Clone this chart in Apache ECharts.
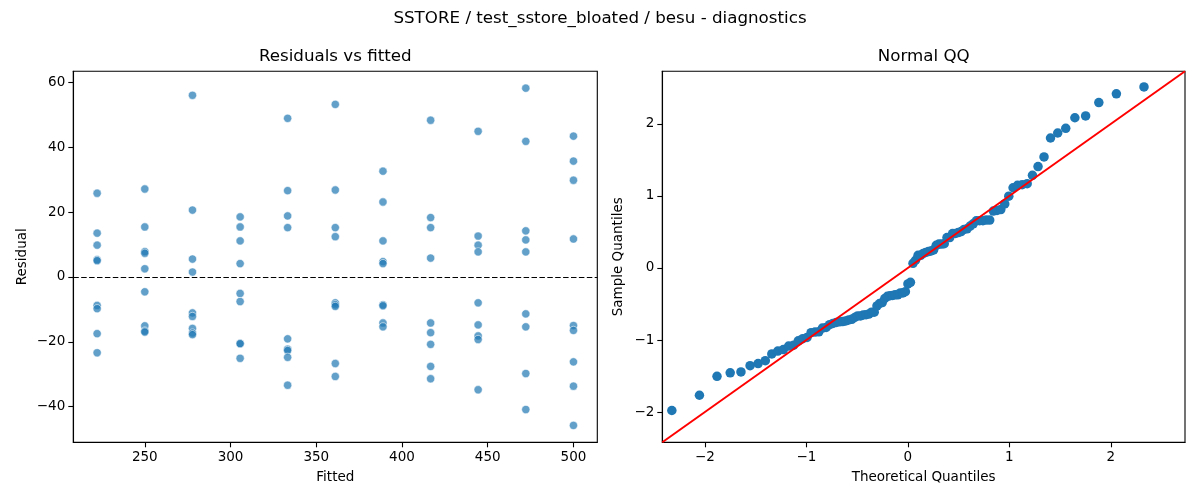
<!DOCTYPE html>
<html>
<head>
<meta charset="utf-8">
<script src="https://cdn.jsdelivr.net/npm/echarts@6/dist/echarts.min.js"></script>
<style>
  html, body { margin: 0; padding: 0; background: #fff; }
  #chart { width: 1200px; height: 500px; }
</style>
</head>
<body>
<div id="chart"></div>
<script>
// ---- Data ----
const fittedLevels = [222.2, 250.0, 277.8, 305.6, 333.3, 361.1, 388.9, 416.7, 444.4, 472.2, 500.0];
const resAt222 = [25.8, 13.5, 9.8, 5.3, 5.0, -8.8, -9.8, -17.5, -23.4];
const resAt250 = [27.1, 15.4, 7.8, 7.3, 2.5, -4.6, -15.1, -16.7, -17.0];
const resAt278 = [56.0, 20.6, 5.5, 1.5, -11.1, -12.2, -15.9, -17.3, -17.8];
const resAt306 = [18.5, 15.4, 11.1, 4.1, -5.1, -7.6, -20.5, -20.6, -25.1];
const resAt333 = [48.9, 26.6, 18.8, 15.2, -19.1, -22.3, -22.7, -24.8, -33.4];
const resAt361 = [53.2, 26.8, 15.2, 12.4, -8.0, -8.6, -9.1, -26.7, -30.7];
const resAt389 = [32.6, 23.1, 11.1, 4.7, 4.1, -8.6, -8.9, -14.2, -15.4];
const resAt417 = [48.3, 18.3, 15.2, 5.8, -14.2, -17.2, -20.8, -27.6, -31.4];
const resAt444 = [44.9, 12.6, 9.8, 7.7, -8.0, -14.8, -18.2, -19.3, -34.8];
const resAt472 = [58.2, 41.8, 14.2, 11.4, 7.7, -11.4, -15.4, -29.8, -40.9];
const resAt500 = [43.4, 35.7, 29.8, 11.7, -15.0, -16.5, -26.2, -33.7, -45.8];
const residualGroups = [resAt222, resAt250, resAt278, resAt306, resAt333, resAt361,
                        resAt389, resAt417, resAt444, resAt472, resAt500];

// Theoretical normal quantiles (plotting positions i/100, i = 1..99)
const qqTheoretical = [
  -2.326, -2.054, -1.881, -1.751, -1.645, -1.555, -1.476, -1.405, -1.341, -1.282,
  -1.227, -1.175, -1.126, -1.080, -1.036, -0.994, -0.954, -0.915, -0.878, -0.842,
  -0.806, -0.772, -0.739, -0.706, -0.674, -0.643, -0.613, -0.583, -0.553, -0.524,
  -0.496, -0.468, -0.440, -0.412, -0.385, -0.358, -0.332, -0.305, -0.279, -0.253,
  -0.228, -0.202, -0.176, -0.151, -0.126, -0.100, -0.075, -0.050, -0.025, 0.000,
   0.025,  0.050,  0.075,  0.100,  0.126,  0.151,  0.176,  0.202,  0.228,  0.253,
   0.279,  0.305,  0.332,  0.358,  0.385,  0.412,  0.440,  0.468,  0.496,  0.524,
   0.553,  0.583,  0.613,  0.643,  0.674,  0.706,  0.739,  0.772,  0.806,  0.842,
   0.878,  0.915,  0.954,  0.994,  1.036,  1.080,  1.126,  1.175,  1.227,  1.282,
   1.341,  1.405,  1.476,  1.555,  1.645,  1.751,  1.881,  2.054,  2.326
];

// Tick labels
const residTicksX = [250, 300, 350, 400, 450, 500];
const residTicksY = [-40, -20, 0, 20, 40, 60];
const qqTicks = [-2, -1, 0, 1, 2];
const refLineEnds = [-2.42, 2.73];

// ---- Build series data ----
const residPoints = [];
fittedLevels.forEach((f, i) => residualGroups[i].forEach(r => residPoints.push([f, r])));

const allRes = residualGroups.flat().slice().sort((a, b) => a - b);
const mean = allRes.reduce((s, v) => s + v, 0) / allRes.length;
const sd = Math.sqrt(allRes.reduce((s, v) => s + (v - mean) * (v - mean), 0) / allRes.length);
const qqPoints = allRes.map((r, i) => [qqTheoretical[i], (r - mean) / sd]);

const FONT = 'DejaVu Sans';
const minus = v => String(v).replace('-', '\u2212');

function axisCommon(ticks) {
  return {
    splitLine: { show: false },
    axisLine: { show: true, onZero: false, lineStyle: { color: '#000', width: 1.1 } },
    axisTick: { show: true, length: 5, customValues: ticks, lineStyle: { color: '#000', width: 1.1 } },
    axisLabel: { customValues: ticks, formatter: minus, color: '#000', fontFamily: FONT, fontSize: 13.5 },
    nameTextStyle: { color: '#000', fontFamily: FONT, fontSize: 13.5 },
    nameLocation: 'middle'
  };
}

const titleStyle = { fontFamily: FONT, fontSize: 16.7, fontWeight: 'normal', color: '#000' };

const chart = echarts.init(document.getElementById('chart'), null, { renderer: 'canvas' });
chart.setOption({
  animation: false,
  backgroundColor: '#fff',
  title: [
    { text: 'SSTORE / test_sstore_bloated / besu - diagnostics', left: 600, top: 10, textAlign: 'center', padding: 0, textStyle: titleStyle },
    { text: 'Residuals vs fitted', left: 335.3, top: 48.5, textAlign: 'center', padding: 0, textStyle: titleStyle },
    { text: 'Normal QQ', left: 923.7, top: 48.5, textAlign: 'center', padding: 0, textStyle: titleStyle }
  ],
  grid: [
    { left: 73.3, top: 71.3, width: 524, height: 371, show: true, borderColor: '#000', borderWidth: 1.1, backgroundColor: 'transparent' },
    { left: 662.3, top: 71.3, width: 522.7, height: 371, show: true, borderColor: '#000', borderWidth: 1.1, backgroundColor: 'transparent' }
  ],
  xAxis: [
    Object.assign(axisCommon(residTicksX), { type: 'value', gridIndex: 0, min: 208.3, max: 513.9, name: 'Fitted', nameGap: 28 }),
    Object.assign(axisCommon(qqTicks), { type: 'value', gridIndex: 1, min: refLineEnds[0], max: refLineEnds[1], name: 'Theoretical Quantiles', nameGap: 28 })
  ],
  yAxis: [
    Object.assign(axisCommon(residTicksY), { type: 'value', gridIndex: 0, min: -51.0, max: 63.4, name: 'Residual', nameGap: 44 }),
    Object.assign(axisCommon(qqTicks), { type: 'value', gridIndex: 1, min: refLineEnds[0], max: refLineEnds[1], name: 'Sample Quantiles', nameGap: 37 })
  ],
  series: [
    {
      type: 'scatter', xAxisIndex: 0, yAxisIndex: 0, data: residPoints,
      symbolSize: 8.3,
      itemStyle: { color: '#1f77b4', opacity: 0.7, borderColor: '#fff', borderWidth: 0.8 },
      markLine: {
        silent: true, symbol: 'none', label: { show: false },
        lineStyle: { color: '#000', type: [5.5, 2.4], width: 1 },
        data: [{ yAxis: 0 }]
      },
      z: 3
    },
    {
      type: 'line', xAxisIndex: 1, yAxisIndex: 1,
      data: [[refLineEnds[0], refLineEnds[0]], [refLineEnds[1], refLineEnds[1]]],
      showSymbol: false, symbol: 'none',
      lineStyle: { color: '#ff0000', width: 2 }, z: 4
    },
    {
      type: 'scatter', xAxisIndex: 1, yAxisIndex: 1, data: qqPoints,
      symbolSize: 9.5,
      itemStyle: { color: '#1f77b4', opacity: 1 },
      z: 3
    }
  ]
});
</script>
</body>
</html>
